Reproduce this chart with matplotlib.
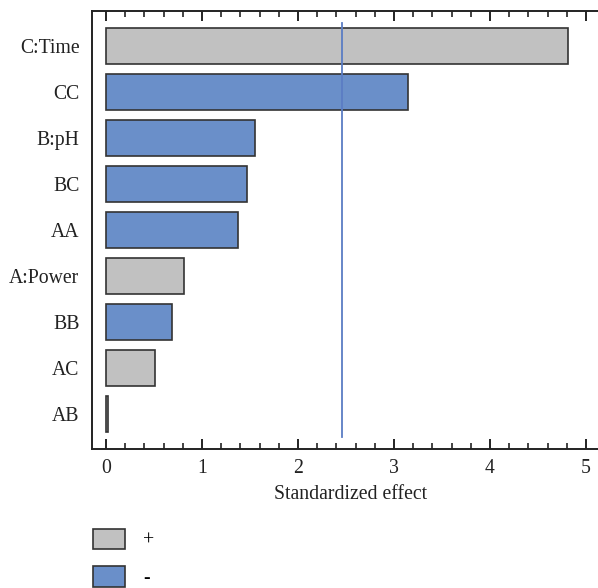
import matplotlib
matplotlib.use("Agg")
from matplotlib import pyplot as plt
from matplotlib.patches import Patch
from matplotlib.ticker import MultipleLocator

# Standardized Pareto chart data (top to bottom)
terms = ["C:Time", "CC", "B:pH", "BC", "AA", "A:Power", "BB", "AC", "AB"]
effects = [4.81, 3.15, 1.55, 1.47, 1.38, 0.815, 0.683, 0.51, 0.025]
signs = ["+", "-", "-", "-", "-", "+", "-", "+", "+"]
critical_value = 2.456

POS_COLOR = "#c1c1c1"
NEG_COLOR = "#6a8fc9"
EDGE = "#333333"
LINE_COLOR = "#5b7dc4"

plt.rcParams["font.family"] = ["Liberation Serif", "DejaVu Serif"]
plt.rcParams["font.size"] = 14.2

fig = plt.figure(figsize=(5.98, 5.88), dpi=100)
ax = fig.add_axes([92 / 598, 1 - 449 / 588, 1 - 92 / 598 + 0.02, (449 - 11) / 588])

ypos = list(range(len(terms)))
colors = [POS_COLOR if s == "+" else NEG_COLOR for s in signs]
ax.barh(ypos, effects, height=0.8, color=colors, edgecolor=EDGE, linewidth=1.2)

# critical value line
ax.plot([critical_value, critical_value], [-0.5, len(terms) - 0.5],
        color=LINE_COLOR, linewidth=1.3)

ax.set_xlim(-0.146, 5.25)
ax.set_ylim(len(terms) - 0.24, -0.76)
ax.set_yticks(ypos)
ax.set_yticklabels(terms, color="#222222")
ax.tick_params(axis="y", length=0, pad=9)

ax.xaxis.set_major_locator(MultipleLocator(1))
ax.xaxis.set_minor_locator(MultipleLocator(0.2))
ax.tick_params(axis="x", which="major", direction="in", length=7, width=1.4,
               top=True, colors="#222222", pad=7)
ax.tick_params(axis="x", which="minor", direction="in", length=4, width=1.2,
               top=True, color="#222222")
ax.set_xlabel("Standardized effect", color="#222222", labelpad=5)

for side in ["left", "bottom", "top"]:
    ax.spines[side].set_linewidth(1.4)
    ax.spines[side].set_color("#222222")
ax.spines["right"].set_visible(False)

handles = [Patch(facecolor=POS_COLOR, edgecolor=EDGE, linewidth=1.2, label="+"),
           Patch(facecolor=NEG_COLOR, edgecolor=EDGE, linewidth=1.2, label="-")]
fig.legend(handles=handles, loc="upper left", bbox_to_anchor=(89 / 598, 1 - 525 / 588),
           frameon=False, handlelength=1.65, handleheight=1.2, handletextpad=0.9,
           labelspacing=0.8, borderaxespad=0, borderpad=0.2)

fig.savefig("out.png", dpi=100)
